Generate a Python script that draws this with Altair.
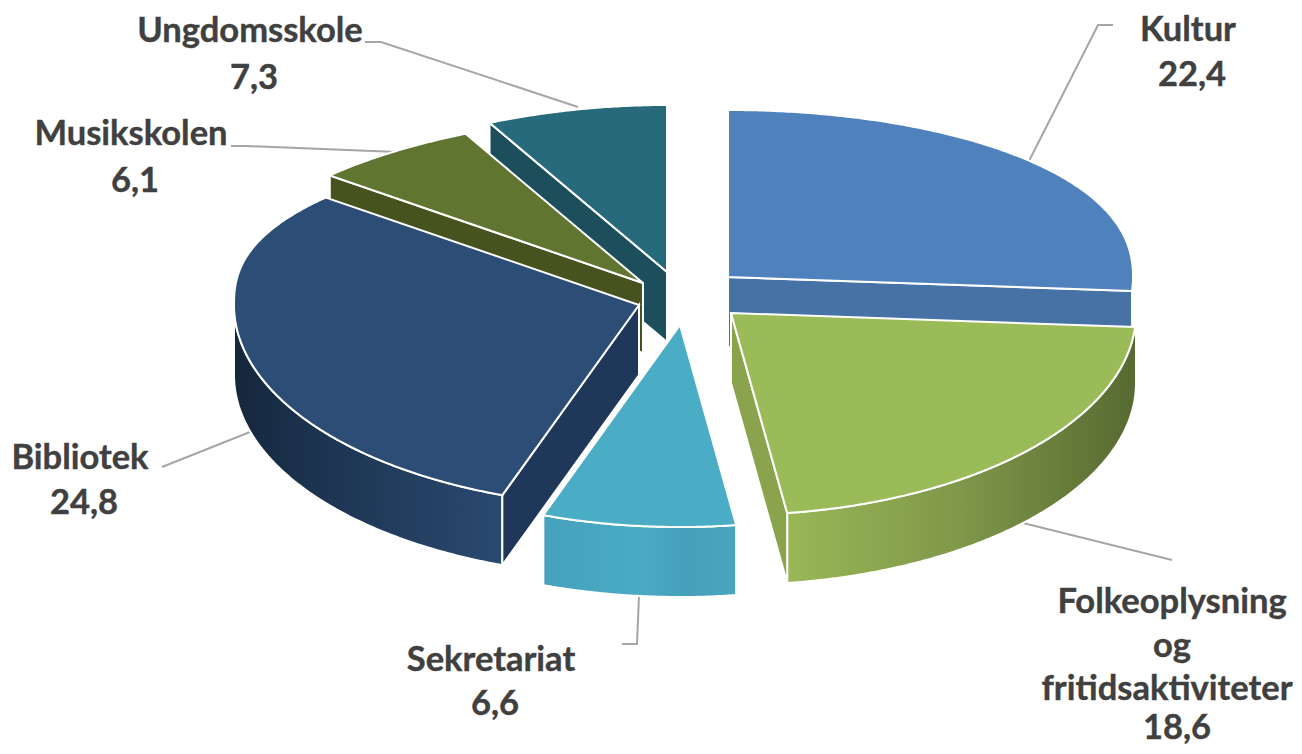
import math
import altair as alt
import pandas as pd

# --- values
names = ["Kultur", "Folkeoplysning og fritidsaktiviteter", "Sekretariat", "Bibliotek", "Musikskolen", "Ungdomsskole"]
values = [22.4, 18.6, 6.6, 24.8, 6.1, 7.3]
top_colors = ["#4f81bd", "#9bbb59", "#4bacc6", "#2c4d75", "#5f7530", "#276a7c"]
cut_colors = ["#4672a5", "#8aa44e", "#429ab3", "#1f3759", "#46531f", "#1c4e5c"]
apex_x = [728, 731, 680, 639, 643, 667]
apex_y = [277, 313, 325, 305, 283, 272]

label_text = ["Kultur", "22,4", "Ungdomsskole", "7,3", "Musikskolen", "6,1", "Bibliotek", "24,8",
              "Sekretariat", "6,6", "Folkeoplysning", "og", "fritidsaktiviteter", "18,6"]
label_x = [1188, 1192, 250, 254, 131, 135, 80, 84, 491, 495, 1172, 1172, 1167, 1177]
label_y = [31, 76, 32, 79, 135, 182, 459, 504, 661, 705, 603, 647, 690, 729]

leader_id = ["k", "k", "k", "u", "u", "u", "m", "m", "m", "b", "b", "s", "s", "s", "f", "f"]
leader_x = [1028, 1098, 1113, 365, 381, 578, 231, 246, 397, 162, 250, 622, 637, 639, 1023, 1172]
leader_y = [163, 25, 25, 42, 42, 107, 146, 146, 152, 467, 432, 644, 644, 596, 523, 560]

# --- pie geometry
RX, RY_BACK, RY_FRONT, DEPTH = 405, 167, 202, 70
W, H, M = 1286, 738, 8
total = sum(values)
edges = [0.0]
for v in values:
    edges.append(edges[-1] + v / total * 360)


def rim(i, deg):
    t = math.radians(deg)
    s, c = math.sin(t), math.cos(t)
    rx = RX
    if c > 0:
        if s < 0:
            rx *= 1 - 0.178 * c ** 1.6
        dy = RY_BACK * c ** (0.75 if s < 0 else 0.9)
    else:
        dy = RY_FRONT * c
    return [apex_x[i] + rx * s, apex_y[i] - dy]


def arc(i, a, b):
    n = max(2, int(abs(b - a) * 2))
    return [rim(i, a + (b - a) * k / n) for k in range(n + 1)]


def down(p):
    return [p[0], p[1] + DEPTH]


def shape(points, fill, width=2):
    ring = points + [points[0]]
    feature = {"type": "Feature", "properties": {},
               "geometry": {"type": "Polygon", "coordinates": [ring]}}
    return alt.Chart(alt.Data(values=[feature])).mark_geoshape(
        fill=fill, stroke="white", strokeWidth=width
    ).project(type="identity", scale=1, translate=[-M, -M])


def grad(*stops):
    return alt.Gradient(gradient="linear", x1=0, x2=1, y1=0, y2=0,
                        stops=[alt.GradientStop(color=c, offset=o) for o, c in stops])


def top(i):
    return shape([[apex_x[i], apex_y[i]]] + arc(i, edges[i], edges[i + 1]), top_colors[i])


def cut(i, deg):
    a = [apex_x[i], apex_y[i]]
    p = rim(i, deg)
    return shape([a, p, down(p), down(a)], cut_colors[i])


def wall(i, a, b, fill):
    pts = arc(i, a, b)
    return shape(pts + [down(p) for p in reversed(pts)], fill)


KU, FO, SE, BI, MU, UN = range(6)
layers = [
    cut(UN, edges[UN]), top(UN),
    cut(MU, edges[MU]), top(MU),
    wall(BI, edges[BI], 270, grad((0, "#15273c"), (0.3, "#1c3350"), (1, "#2a4a70"))),
    cut(BI, edges[BI]), top(BI),
    wall(KU, 90, edges[KU + 1], cut_colors[KU]),
    cut(KU, edges[KU + 1]), top(KU),
    wall(FO, 90, edges[FO + 1], grad((0, "#99b757"), (0.5, "#7f9749"), (1, "#566a31"))),
    cut(FO, edges[FO + 1]), top(FO),
    wall(SE, edges[SE], edges[SE + 1], grad((0, "#46a2bd"), (0.5, "#4aaac5"), (0.75, "#46a0bb"), (1, "#4aa6c0"))),
    top(SE),
]

xs = alt.Scale(domain=[M, M + W], range=[0, W])
ys = alt.Scale(domain=[M, M + H], range=[0, H])

leaders = alt.Chart(pd.DataFrame({"id": leader_id, "x": leader_x, "y": leader_y, "o": range(len(leader_x))})).mark_line(
    color="#a6a6a6", strokeWidth=2
).encode(
    x=alt.X("x:Q", scale=xs, axis=None),
    y=alt.Y("y:Q", scale=ys, axis=None),
    detail="id:N",
    order="o:Q",
)

labels = alt.Chart(pd.DataFrame({"t": label_text, "x": label_x, "y": label_y})).mark_text(
    font="Lato", fontSize=34.5, fontWeight="bold", color="#404040", stroke="#404040", strokeWidth=0.4,
    align="center", baseline="middle"
).encode(
    x=alt.X("x:Q", scale=xs, axis=None),
    y=alt.Y("y:Q", scale=ys, axis=None),
    text="t:N",
)

chart = alt.layer(leaders, *layers, labels).properties(
    width=W, height=H, padding=0, background="white", autosize=alt.AutoSizeParams(type="none")
).configure_view(stroke=None)

chart.save("out.html", embed_options={"renderer": "svg", "actions": False})
